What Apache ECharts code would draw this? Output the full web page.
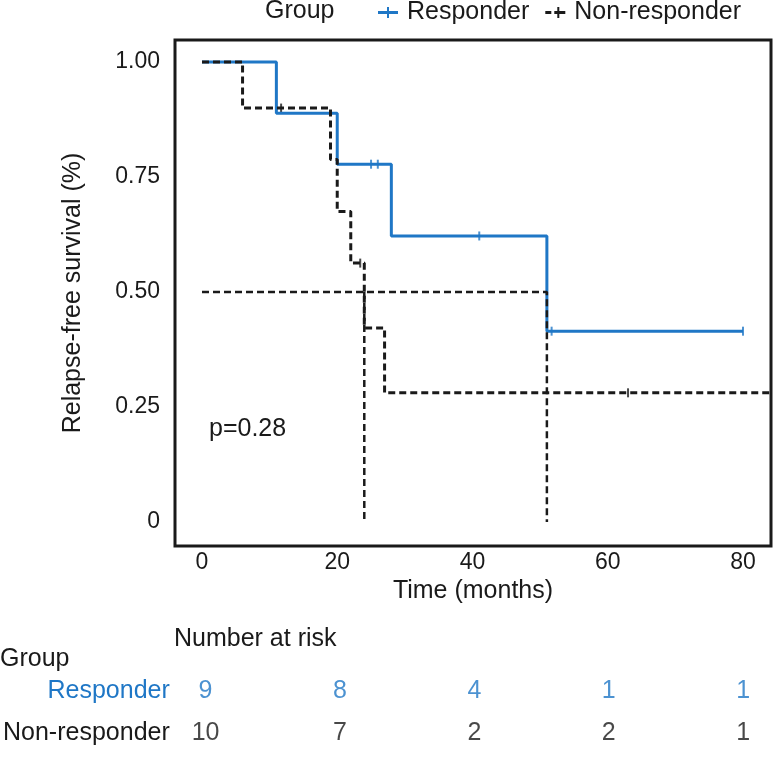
<!DOCTYPE html>
<html>
<head>
<meta charset="utf-8">
<script src="https://cdn.jsdelivr.net/npm/echarts@6/dist/echarts.min.js"></script>
<style>
html, body { margin: 0; padding: 0; background: #fff; }
#main { width: 773px; height: 773px; }
</style>
</head>
<body>
<div id="main"></div>
<script>
// 曲线数据
const respTime = [0, 11, 20, 28, 51, 80];
const respSurv = [1, 0.889, 0.778, 0.622, 0.415, 0.415];
const respCensorTime = [25, 26, 41, 51.7, 80];
const respCensorSurv = [0.778, 0.778, 0.622, 0.415, 0.415];
const nonTime = [0, 6, 19, 20, 22, 24, 27, 85];
const nonSurv = [1, 0.9, 0.788, 0.675, 0.563, 0.422, 0.281, 0.281];
const nonCensorTime = [11.7, 23.4, 63];
const nonCensorSurv = [0.9, 0.563, 0.281];
const medianTimes = [24, 51];
// 坐标轴刻度
const xTicks = [0, 20, 40, 60, 80];
const yTicks = [0, 0.25, 0.5, 0.75, 1];
// 风险人数表
const groups = ['Responder', 'Non-responder'];
const riskTimes = [0, 20, 40, 60, 80];
const riskResp = [9, 8, 4, 1, 1];
const riskNon = [10, 7, 2, 2, 1];

const blue = '#1f77c6';
const dark = '#1a1a1a';
const font = 'Liberation Sans, Arial, Helvetica, sans-serif';
const fs = 25;

function pairs(xs, ys) {
    return xs.map((x, i) => [x, ys[i]]);
}
function titleStyle() {
    return { fontSize: fs, fontWeight: 'normal', color: dark, fontFamily: font };
}

let myChart = echarts.init(document.getElementById('main'));
let option = {
    animation: false,
    backgroundColor: '#fff',
    textStyle: { fontFamily: font, color: dark },
    title: [
        { text: 'Group', left: 265, top: -1, padding: 0, textStyle: titleStyle() },
        { text: 'p=0.28', left: 209, top: 417, padding: 0, textStyle: titleStyle() },
        { text: 'Number at risk', left: 174, top: 627, padding: 0, textStyle: titleStyle() },
        { text: 'Group', left: 0, top: 647, padding: 0, textStyle: titleStyle() }
    ],
    legend: {
        left: 378,
        top: 0,
        padding: 0,
        itemWidth: 20,
        itemHeight: 11,
        itemGap: 16,
        textStyle: { fontSize: fs, color: dark, fontFamily: font, padding: [0, 0, 0, 4] },
        data: [
            { name: 'Responder', icon: 'path://M0,4h20v3h-20z M9,0h2v11h-2z' },
            { name: 'Non-responder', icon: 'path://M0,4h6v3h-6z M9,4h11v3h-11z M12,0h2v11h-2z' }
        ]
    },
    grid: [
        { left: 175, top: 40, width: 596, height: 506, show: true, borderColor: dark, borderWidth: 3, backgroundColor: '#fff' },
        { left: 175, top: 670, width: 596, height: 84, show: false }
    ],
    xAxis: [
        {
            type: 'value', gridIndex: 0, min: -3.99, max: 84.14,
            name: 'Time (months)', nameLocation: 'middle', nameGap: 31,
            nameTextStyle: { fontSize: fs, color: dark, fontFamily: font },
            axisLine: { show: false }, axisTick: { show: false }, splitLine: { show: false },
            axisLabel: { customValues: xTicks, fontSize: 23, color: dark, margin: 5, fontFamily: font }
        },
        {
            type: 'value', gridIndex: 1, min: -3.99, max: 84.14, show: false
        }
    ],
    yAxis: [
        {
            type: 'value', gridIndex: 0, min: -0.052, max: 1.048,
            name: 'Relapse-free survival (%)', nameLocation: 'middle', nameGap: 89,
            nameTextStyle: { fontSize: fs, color: dark, fontFamily: font },
            axisLine: { show: false }, axisTick: { show: false }, splitLine: { show: false },
            axisLabel: {
                customValues: yTicks, fontSize: 23, color: dark, margin: 15, fontFamily: font,
                formatter: v => (v === 0 ? '0' : v.toFixed(2))
            }
        },
        {
            type: 'category', gridIndex: 1, data: groups, inverse: true,
            axisLine: { show: false }, axisTick: { show: false }, splitLine: { show: false },
            axisLabel: {
                fontSize: fs, margin: 9, fontFamily: font,
                color: (v) => (v === 'Responder' ? blue : dark)
            }
        }
    ],
    series: [
        {
            name: 'Responder', type: 'line', step: 'end', symbol: 'none',
            xAxisIndex: 0, yAxisIndex: 0,
            lineStyle: { color: blue, width: 3 }, itemStyle: { color: blue },
            data: pairs(respTime, respSurv)
        },
        {
            name: 'resp-censor', type: 'scatter', symbol: 'rect', symbolSize: [2, 9],
            xAxisIndex: 0, yAxisIndex: 0,
            itemStyle: { color: blue },
            data: pairs(respCensorTime, respCensorSurv)
        },
        {
            name: 'median-h', type: 'line', symbol: 'none',
            xAxisIndex: 0, yAxisIndex: 0,
            lineStyle: { color: dark, width: 2.5, type: [7, 4] },
            data: [[0, 0.5], [medianTimes[1], 0.5], [medianTimes[1], 0]]
        },
        {
            name: 'median-v', type: 'line', symbol: 'none',
            xAxisIndex: 0, yAxisIndex: 0,
            lineStyle: { color: dark, width: 2.5, type: [7, 4] },
            data: [[medianTimes[0], 0.5], [medianTimes[0], 0]]
        },
        {
            name: 'Non-responder', type: 'line', step: 'end', symbol: 'none',
            xAxisIndex: 0, yAxisIndex: 0,
            lineStyle: { color: dark, width: 3, type: [7, 4] }, itemStyle: { color: dark },
            data: pairs(nonTime, nonSurv)
        },
        {
            name: 'non-censor', type: 'scatter', symbol: 'rect', symbolSize: [2, 9],
            xAxisIndex: 0, yAxisIndex: 0,
            itemStyle: { color: dark },
            data: pairs(nonCensorTime, nonCensorSurv)
        },
        {
            name: 'risk-resp', type: 'scatter', symbolSize: 1,
            xAxisIndex: 1, yAxisIndex: 1,
            itemStyle: { color: 'transparent' },
            label: { show: true, position: 'inside', fontSize: fs, color: blue, fontFamily: font, formatter: p => riskResp[p.dataIndex] },
            data: riskTimes.map(t => [t, 'Responder'])
        },
        {
            name: 'risk-non', type: 'scatter', symbolSize: 1,
            xAxisIndex: 1, yAxisIndex: 1,
            itemStyle: { color: 'transparent' },
            label: { show: true, position: 'inside', fontSize: fs, color: dark, fontFamily: font, formatter: p => riskNon[p.dataIndex] },
            data: riskTimes.map(t => [t, 'Non-responder'])
        }
    ]
};
myChart.setOption(option);
</script>
</body>
</html>
